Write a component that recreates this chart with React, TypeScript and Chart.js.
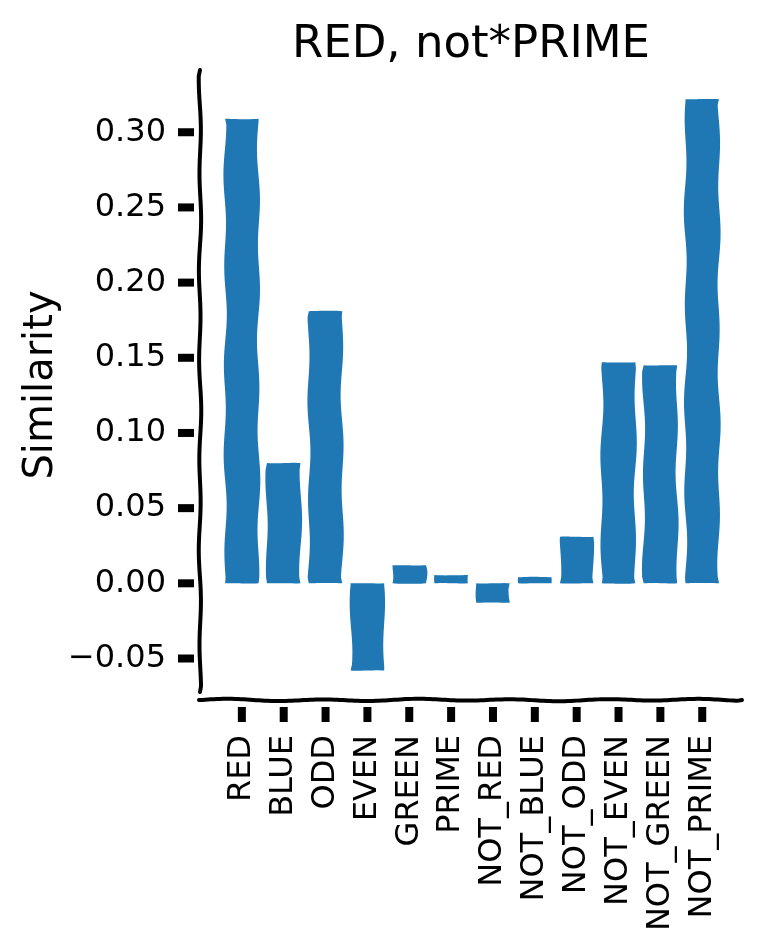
import { useEffect, useRef } from 'react';
import { Chart, registerables } from 'chart.js';

Chart.register(...registerables);

// ---- data ----
const categories = [
  'RED', 'BLUE', 'ODD', 'EVEN', 'GREEN', 'PRIME',
  'NOT_RED', 'NOT_BLUE', 'NOT_ODD', 'NOT_EVEN', 'NOT_GREEN', 'NOT_PRIME',
];
const similarity = [0.309, 0.080, 0.181, -0.058, 0.012, 0.0055, -0.013, 0.004, 0.031, 0.147, 0.145, 0.322];
const yTickValues = [-0.05, 0, 0.05, 0.1, 0.15, 0.2, 0.25, 0.3];
const yTickLabels = ['\u22120.05', '0.00', '0.05', '0.10', '0.15', '0.20', '0.25', '0.30'];
const chartTitle = 'RED, not*PRIME';
const yAxisTitle = 'Similarity';

const FONT = '"DejaVu Sans", "Liberation Sans", sans-serif';
const BAR_COLOR = '#1f77b4';

// gentle hand-drawn wobble used for the sketchy look
const wob = (s: number, seed: number) =>
  Math.sin(s / 15 + seed) * 0.8 + Math.sin(s / 37 + seed * 1.7) * 0.35;

function wigglySegment(
  ctx: CanvasRenderingContext2D,
  x0: number, y0: number, x1: number, y1: number,
  amp: number, seed: number, start: boolean,
) {
  const dx = x1 - x0;
  const dy = y1 - y0;
  const len = Math.hypot(dx, dy) || 1;
  const ux = dx / len;
  const uy = dy / len;
  const nx = -uy;
  const ny = ux;
  const steps = Math.max(2, Math.ceil(len / 3));
  for (let k = 0; k <= steps; k++) {
    const s = (len * k) / steps;
    const taper = Math.min(1, s / 6, (len - s) / 6);
    const o = amp * wob(s, seed) * Math.max(0, taper);
    const px = x0 + ux * s + nx * o;
    const py = y0 + uy * s + ny * o;
    if (k === 0 && start) ctx.moveTo(px, py);
    else ctx.lineTo(px, py);
  }
}

const sketchPlugin = {
  id: 'sketchStyle',
  beforeDatasetDraw(chart: any, args: any) {
    const ctx: CanvasRenderingContext2D = chart.ctx;
    ctx.save();
    ctx.fillStyle = BAR_COLOR;
    args.meta.data.forEach((el: any, i: number) => {
      const { x, y, base, width } = el.getProps(['x', 'y', 'base', 'width'], true);
      const l = x - width / 2;
      const r = x + width / 2;
      const top = Math.min(y, base);
      const bot = Math.max(y, base);
      const h = bot - top;
      const hAmp = Math.min(0.4, h / 15);
      const seed = i * 1.37 + 0.4;
      ctx.beginPath();
      wigglySegment(ctx, l, top, r, top, hAmp, seed, true);
      wigglySegment(ctx, r, top, r, bot, -1.5, seed + 2.2, false);
      wigglySegment(ctx, r, bot, l, bot, hAmp, seed + 4.1, false);
      wigglySegment(ctx, l, bot, l, top, -1.5, seed + 5.3, false);
      ctx.closePath();
      ctx.fill();
    });
    ctx.restore();
    return false;
  },
  afterDraw(chart: any) {
    const ctx: CanvasRenderingContext2D = chart.ctx;
    const { left, right, top, bottom } = chart.chartArea;
    const xs = chart.scales.x;
    const ys = chart.scales.y;
    ctx.save();

    // spines
    ctx.strokeStyle = '#000';
    ctx.lineWidth = 4;
    ctx.lineCap = 'round';
    ctx.lineJoin = 'round';
    ctx.beginPath();
    wigglySegment(ctx, left, top, left, bottom - 8, 1.1, 0.9, true);
    ctx.stroke();
    ctx.beginPath();
    wigglySegment(ctx, left - 1, bottom, right, bottom, 1.1, 2.7, true);
    ctx.stroke();

    // tick marks
    ctx.fillStyle = '#000';
    yTickValues.forEach((v) => {
      const py = ys.getPixelForValue(v);
      ctx.fillRect(left - 22, py - 4, 16, 8);
    });
    categories.forEach((_, i) => {
      const px = xs.getPixelForValue(i);
      ctx.fillRect(px - 4, bottom + 7, 8, 15);
    });

    // title
    ctx.fillStyle = '#000';
    ctx.font = `45px ${FONT}`;
    ctx.textAlign = 'center';
    ctx.textBaseline = 'alphabetic';
    ctx.fillText(chartTitle, (left + right) / 2, 57);
    ctx.restore();
  },
};

export default function App() {
  const canvasRef = useRef<HTMLCanvasElement | null>(null);

  useEffect(() => {
    document.body.style.margin = '0';
    const canvas = canvasRef.current;
    if (!canvas) return;
    const chart = new Chart(canvas, {
      type: 'bar',
      data: {
        datasets: [
          {
            label: yAxisTitle,
            data: similarity.map((v, i) => ({ x: i, y: v })),
            backgroundColor: BAR_COLOR,
            barPercentage: 0.8,
            categoryPercentage: 1.0,
          },
        ],
      },
      options: {
        animation: false,
        responsive: false,
        devicePixelRatio: 1,
        layout: { padding: { top: 70, right: 20, left: 0, bottom: 0 } },
        plugins: {
          legend: { display: false },
          tooltip: { enabled: false },
          title: { display: false },
        },
        scales: {
          x: {
            type: 'linear',
            offset: false,
            min: -1.0,
            max: 11.95,
            afterBuildTicks: (s: any) => {
              s.ticks = categories.map((_, i) => ({ value: i }));
            },
            afterFit: (s: any) => {
              s.height = 250;
              s.paddingLeft = 0;
              s.paddingRight = 0;
            },
            ticks: {
              autoSkip: false,
              minRotation: 90,
              maxRotation: 90,
              padding: 35,
              color: '#000',
              font: { family: FONT, size: 32 },
              callback: (v: any) => categories[Math.round(Number(v))] ?? '',
            },
            grid: { display: false, drawTicks: false },
            border: { display: false },
          },
          y: {
            type: 'linear',
            min: -0.0776,
            max: 0.3414,
            afterBuildTicks: (s: any) => {
              s.ticks = yTickValues.map((v) => ({ value: v }));
            },
            afterFit: (s: any) => {
              s.width = 200;
              s.paddingTop = 0;
              s.paddingBottom = 0;
            },
            ticks: {
              padding: 34,
              color: '#000',
              font: { family: FONT, size: 32 },
              callback: (v: any) => {
                const idx = yTickValues.findIndex((t) => Math.abs(t - Number(v)) < 1e-9);
                return idx >= 0 ? yTickLabels[idx] : '';
              },
            },
            grid: { display: false, drawTicks: false },
            border: { display: false },
            title: {
              display: true,
              text: yAxisTitle,
              color: '#000',
              font: { family: FONT, size: 40, lineHeight: 1.2 },
              padding: { top: 18, bottom: 0 },
            },
          },
        },
      },
      plugins: [sketchPlugin],
    } as any);
    return () => chart.destroy();
  }, []);

  return (
    <div style={{ width: 762, height: 950, background: '#fff' }}>
      <canvas ref={canvasRef} width={762} height={950} />
    </div>
  );
}
